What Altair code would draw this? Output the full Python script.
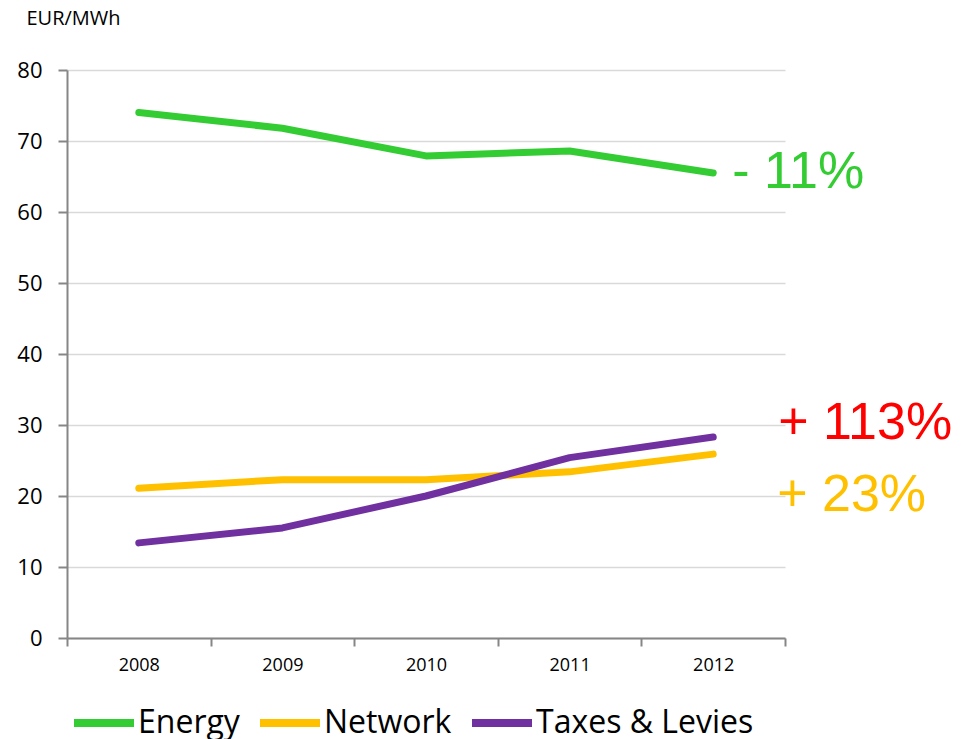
import altair as alt
import pandas as pd

years = ["2008", "2009", "2010", "2011", "2012"]
energy = [74.0, 71.8, 67.9, 68.6, 65.5]
network = [21.1, 22.3, 22.3, 23.4, 25.9]
taxes = [13.4, 15.5, 20.0, 25.4, 28.3]
series_names = ["Energy", "Network", "Taxes & Levies"]
series_colors = ["#33CC33", "#FFC000", "#7030A0"]
y_ticks = [0, 10, 20, 30, 40, 50, 60, 70, 80]
unit_label = "EUR/MWh"

change_labels = ["- 11%", "+ 23%", "+ 113%"]
change_colors = ["#33CC33", "#FFC000", "#FF0000"]

rows = []
for name, vals in zip(series_names, [energy, network, taxes]):
    for y, v in zip(years, vals):
        rows.append({"year": y, "value": v, "series": name})
df = pd.DataFrame(rows)

x_enc = alt.X(
    "year:O",
    sort=years,
    bandPosition=0.5,
    scale=alt.Scale(type="band", paddingInner=0, paddingOuter=0),
    axis=alt.Axis(
        title=None,
        labelAngle=0,
        tickBand="extent",
        labelFont="Open Sans",
        labelFontSize=18,
        labelColor="#000000",
        labelPadding=10,
        tickSize=8,
        tickColor="#868686",
        tickWidth=2,
        domainColor="#868686",
        domainWidth=2,
        grid=False,
    ),
)

y_scale = alt.Scale(domain=[0, 80], nice=False)

lines = alt.Chart(df).mark_line(strokeWidth=7, strokeCap="round", strokeJoin="round").encode(
    x=x_enc,
    y=alt.Y(
        "value:Q",
        scale=y_scale,
        axis=alt.Axis(
            values=y_ticks,
            title=unit_label,
            titleAngle=0,
            titleAlign="left",
            titleBaseline="middle",
            titleX=-41,
            titleY=-52,
            titleFont="Open Sans",
            titleFontSize=20,
            titleFontWeight="normal",
            titleColor="#000000",
            labelFont="Open Sans",
            labelFontSize=22,
            labelColor="#000000",
            labelPadding=16,
            tickSize=9,
            tickColor="#868686",
            tickWidth=2,
            domainColor="#868686",
            domainWidth=2,
            grid=True,
            gridColor="#D9D9D9",
            gridWidth=1.5,
        ),
    ),
    color=alt.Color(
        "series:N",
        scale=alt.Scale(domain=series_names, range=series_colors),
        legend=alt.Legend(
            title=None,
            orient="none",
            direction="horizontal",
            legendX=3,
            legendY=619,
            padding=0,
            symbolType="stroke",
            symbolSize=3600,
            symbolStrokeWidth=8,
            labelFont="Open Sans",
            labelFontSize=32,
            labelColor="#000000",
            labelOffset=0,
            labelLimit=0,
            columnPadding=4,
        ),
    ),
    detail="series:N",
)

ann_layers = []
offsets = [(19, -1), (64, 41), (65, -14)]
ann_values = [energy[-1], network[-1], taxes[-1]]
for lab, col, val, (dx, dy) in zip(change_labels, change_colors, ann_values, offsets):
    adf = pd.DataFrame({"year": [years[-1]], "value": [val], "label": [lab]})
    ann_layers.append(
        alt.Chart(adf).mark_text(
            align="left",
            baseline="middle",
            dx=dx,
            dy=dy,
            font="Liberation Sans",
            fontSize=52,
            color=col,
        ).encode(
            x=alt.X("year:O", sort=years, bandPosition=0.5),
            y=alt.Y("value:Q", scale=y_scale),
            text="label:N",
        )
    )

chart = alt.layer(lines, *ann_layers).properties(
    width=718,
    height=568,
    autosize=alt.AutoSizeParams(type="none"),
    padding={"left": 67, "top": 70, "right": 186, "bottom": 101},
    background="white",
).configure_view(stroke=None)

chart.save("out.html", embed_options={"renderer": "svg", "actions": False})
